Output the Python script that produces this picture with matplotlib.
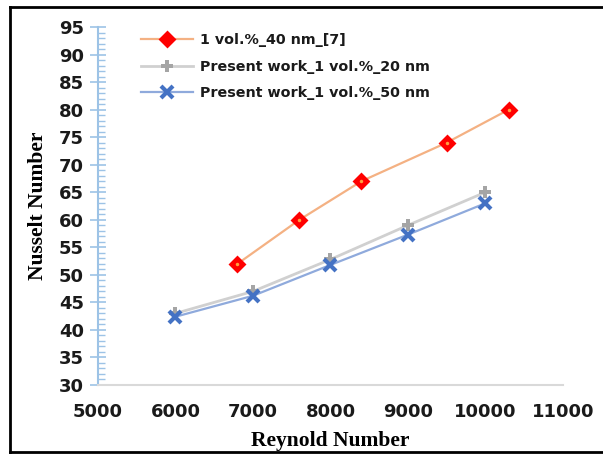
import matplotlib
matplotlib.use("Agg")
import matplotlib.pyplot as plt
from matplotlib.lines import Line2D
from matplotlib.ticker import MultipleLocator

# data
re_ref = [6800, 7600, 8400, 9500, 10300]
nu_ref = [52, 60, 67, 74, 80]
re_work = [6000, 7000, 8000, 9000, 10000]
nu_20nm = [43, 47, 52.8, 59, 65]
nu_50nm = [42.4, 46.2, 51.8, 57.3, 63]
labels = ["1 vol.%_40 nm_[7]",
          "Present work_1 vol.%_20 nm",
          "Present work_1 vol.%_50 nm"]

fig = plt.figure(figsize=(6.03, 4.54), dpi=100)
ax = fig.add_axes([0.1625, 0.152, 0.771, 0.7885])

ax.plot(re_ref, nu_ref, color="#F4B183", lw=1.6, marker="D", ms=7,
        mfc="#FF0000", mec="#FF0000", mew=2, label=labels[0], zorder=3)
# small orange centre of the diamonds
ax.plot(re_ref, nu_ref, ls="none", marker="o", ms=2.5, mfc="#FFA040",
        mec="none", zorder=3.5)
ax.plot(re_work, nu_20nm, color="#D0D0D0", lw=2, marker="P", ms=8,
        mfc="#A5A5A5", mec="#A5A5A5", mew=0, label=labels[1], zorder=3)
ax.plot(re_work, nu_50nm, color="#8FAADC", lw=1.6, marker="x", ms=9,
        mec="#4472C4", mew=3, label=labels[2], zorder=4)

ax.set_xlim(5000, 11000)
ax.set_ylim(30, 95)
ax.xaxis.set_major_locator(MultipleLocator(1000))
ax.yaxis.set_major_locator(MultipleLocator(5))
ax.yaxis.set_minor_locator(MultipleLocator(1))

for s in ["top", "right"]:
    ax.spines[s].set_visible(False)
ax.spines["left"].set_color("#9DC3E6")
ax.spines["left"].set_linewidth(1.5)
ax.spines["bottom"].set_color("#D9D9D9")
ax.spines["bottom"].set_linewidth(1.5)

ax.tick_params(axis="y", which="major", direction="inout", length=12,
               width=1.2, color="#9DC3E6", pad=4)
ax.tick_params(axis="y", which="minor", direction="in", length=5,
               width=1, color="#9DC3E6")
ax.tick_params(axis="x", which="both", length=0, pad=13)
for lbl in ax.get_xticklabels() + ax.get_yticklabels():
    lbl.set_fontsize(13)
    lbl.set_fontweight("bold")
    lbl.set_color("#1a1a1a")

ax.set_xlabel("Reynold Number", fontfamily="Liberation Serif",
              fontweight="bold", fontsize=15.5, labelpad=7)
ax.set_ylabel("Nusselt Number", fontfamily="Liberation Serif",
              fontweight="bold", fontsize=15.5, labelpad=8)

leg = ax.legend(loc="upper left", bbox_to_anchor=(0.065, 1.02), frameon=False,
                prop={"weight": "bold", "size": 10.3}, handlelength=3.6,
                handletextpad=0.5, labelspacing=0.9)
for t in leg.get_texts():
    t.set_color("#1a1a1a")

# frame around the picture
for xs, ys in [([10 / 603, 1], [1 - 7 / 454] * 2),
               ([10 / 603, 1], [1 - 452 / 454] * 2),
               ([10 / 603] * 2, [1 - 7 / 454, 1 - 452 / 454])]:
    fig.add_artist(Line2D(xs, ys, color="black", lw=2, transform=fig.transFigure))

fig.savefig("out.png", dpi=100, facecolor="white")
